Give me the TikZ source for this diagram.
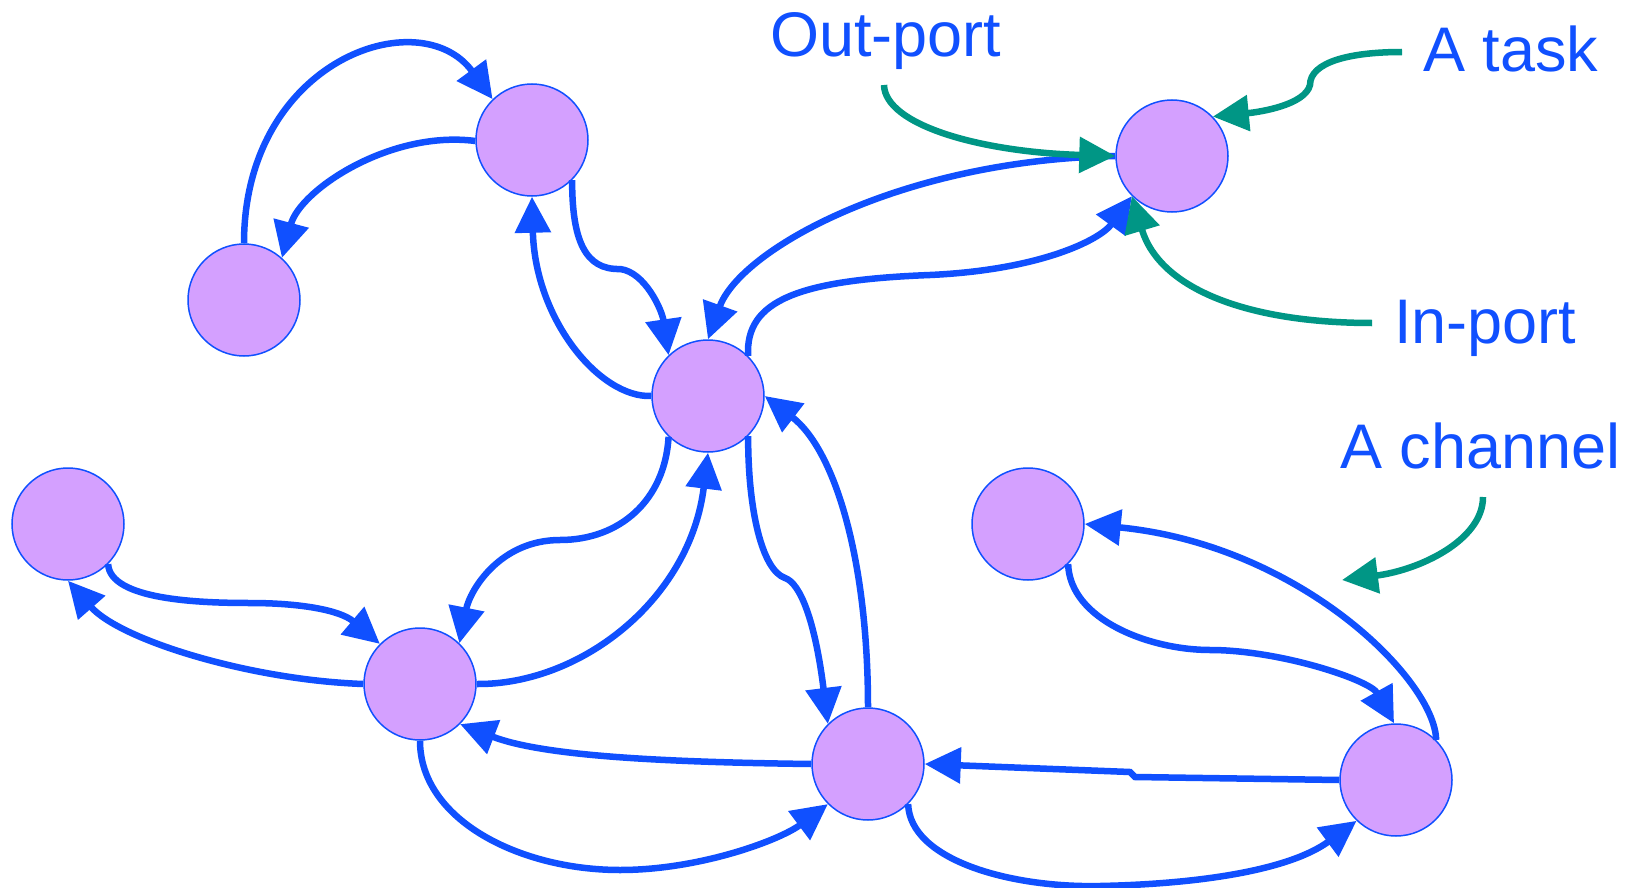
\documentclass[tikz,border=0pt]{standalone}
\usepackage{fontspec}
\setmainfont{Liberation Sans}
\usetikzlibrary{arrows.meta}
\definecolor{chan}{RGB}{16,80,255}
\definecolor{taskfill}{RGB}{212,160,255}
\definecolor{note}{RGB}{0,150,133}
\tikzset{
  task/.style={circle,draw=chan,line width=1.5pt,fill=taskfill,minimum size=112pt,inner sep=0pt},
  chn/.style={draw=chan,line width=6.5pt,-{Triangle[length=36pt,width=35pt]}},
  pointer/.style={draw=note,line width=6.5pt,-{Triangle[length=36pt,width=35pt]}},
  lbl/.style={anchor=base west,inner sep=0pt,text=chan,font=\fontsize{63}{70}\selectfont}
}
\begin{document}
\begin{tikzpicture}[x=1pt,y=-1pt]
\useasboundingbox (0,0) rectangle (1642,888);
\node[task] (a) at (532,140) {};
\node[task] (b) at (244,300) {};
\node[task] (c) at (708,396) {};
\node[task] (d) at (1172,156) {};
\node[task] (e) at (68,524) {};
\node[task] (f) at (420,684) {};
\node[task] (g) at (868,764) {};
\node[task] (h) at (1028,524) {};
\node[task] (i) at (1396,780) {};
\node[lbl] (op) at (770,57) {Out-port};
\node[lbl] (at) at (1423,72) {A task};
\node[lbl] (ip) at (1394,343) {In-port};
\node[lbl] (ac) at (1340,468) {A channel};
\coordinate (op0) at (884,85);
\coordinate (at0) at (1402,52);
\coordinate (ip0) at (1372,323);
\coordinate (ac0) at (1483,497);
\coordinate (ac1) at (1342,580);
\draw[chn] (b.north) .. controls (244,60) and (420,0) .. (a.134);
\draw[chn] (a.181) .. controls (390,130) and (300,190) .. (b.48);
\draw[chn] (a.-45) .. controls (572,240) and (585,270) .. (620,269) .. controls (645,272) and (662,310) .. (c.134);
\draw[chn] (c.180) .. controls (600,398) and (535,320) .. (a.-90);
\draw[chn] (d.180) .. controls (900,160) and (740,250) .. (c.90);
\draw[chn] (c.45) .. controls (745,300) and (800,280) .. (930,275) .. controls (1040,270) and (1100,240) .. (d.-135);
\draw[chn] (c.-134) .. controls (665,500) and (620,540) .. (560,540) .. controls (500,540) and (470,590) .. (f.46);
\draw[chn] (f.0) .. controls (580,685) and (690,600) .. (c.-90);
\draw[chn] (c.-45) .. controls (748,510) and (762,570) .. (785,578) .. controls (800,583) and (815,620) .. (g.135);
\draw[chn] (g.90) .. controls (868,560) and (835,450) .. (c.0);
\draw[chn] (e.-45) .. controls (110,600) and (200,603) .. (250,603) .. controls (300,603) and (340,610) .. (f.135);
\draw[chn] (f.180) .. controls (250,680) and (120,640) .. (e.-90);
\draw[chn] (g.180) .. controls (650,762) and (540,755) .. (f.-45);
\draw[chn] (f.-90) .. controls (420,820) and (520,870) .. (620,870) .. controls (700,870) and (780,840) .. (g.-135);
\draw[chn] (i.180) -- (1135,777) -- (1130,772) -- (g.0);
\draw[chn] (g.-45) .. controls (910,860) and (1010,888) .. (1100,886) .. controls (1200,884) and (1290,870) .. (i.-134);
\draw[chn] (h.-45) .. controls (1070,620) and (1150,650) .. (1210,650) .. controls (1280,650) and (1370,680) .. (i.92);
\draw[chn] (i.45) .. controls (1435,680) and (1300,545) .. (h.0);
\draw[pointer] (op0) .. controls (885,125) and (980,152) .. (d.180);
\draw[pointer] (at0) .. controls (1350,52) and (1310,62) .. (1310,85) .. controls (1305,105) and (1260,112) .. (d.44);
\draw[pointer] (ip0) .. controls (1250,323) and (1160,290) .. (d.-135);
\draw[pointer] (ac0) .. controls (1483,540) and (1420,570) .. (ac1);
\end{tikzpicture}
\end{document}
